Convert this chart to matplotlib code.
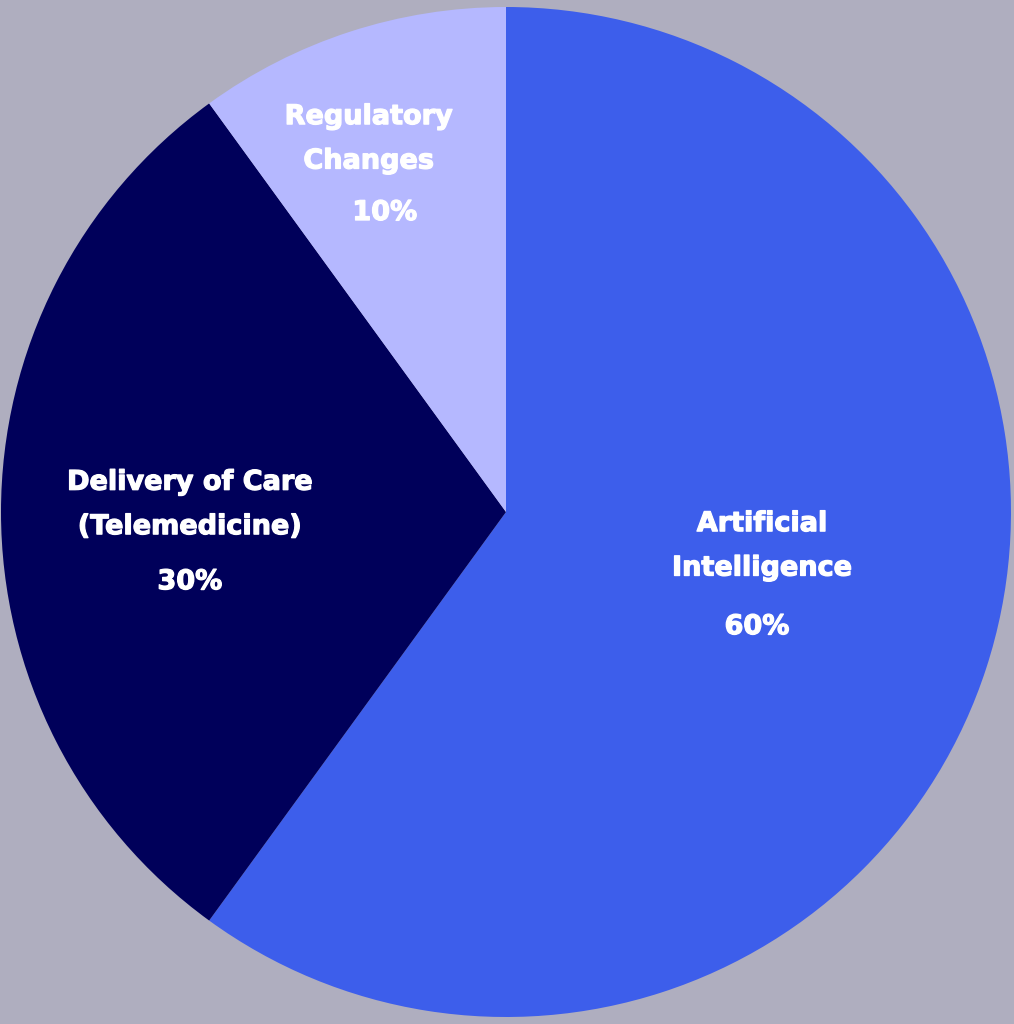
import matplotlib
matplotlib.use("Agg")
import matplotlib.pyplot as plt
import matplotlib.patheffects as pe

# ======================
# DATA
# ======================
categories = ["Artificial\nIntelligence", "Delivery of Care\n(Telemedicine)", "Regulatory\nChanges"]
shares = [60, 30, 10]

colors = ["#3D5EEB", "#00005A", "#B5B8FF"]
bg_color = "#AFAEBF"

# label block / percent positions (in pie radius units)
label_xy = [(0.507, -0.068), (-0.626, 0.014), (-0.272, 0.738)]
pct_xy = [(0.497, -0.228), (-0.626, -0.139), (-0.240, 0.592)]

# ======================
# PLOT
# ======================
fig = plt.figure(figsize=(10.14, 10.24), dpi=100)
fig.patch.set_facecolor(bg_color)
ax = fig.add_axes([0, 0, 1, 1])
ax.set_facecolor(bg_color)

wedges, _ = ax.pie(shares, colors=colors, startangle=90, counterclock=False,
                   radius=1.0, center=(0, 0), wedgeprops=dict(linewidth=0))

# slight stroke to get a heavier bold look
heavy = [pe.withStroke(linewidth=0.9, foreground="white")]
font = dict(family="DejaVu Sans", fontweight="bold",
            fontsize=19.5, color="white", ha="center", va="center",
            path_effects=heavy)
for cat, val, (lx, ly), (px, py) in zip(categories, shares, label_xy, pct_xy):
    ax.text(lx, ly, cat, linespacing=1.92, **font)
    ax.text(px, py, f"{val}%", **font)

# center at pixel (506, 512), radius 505 px
r_px = 505.0
ax.set_xlim(-506 / r_px, (1014 - 506) / r_px)
ax.set_ylim(-(1024 - 512) / r_px, 512 / r_px)
ax.set_aspect("auto")
ax.axis("off")

plt.savefig("out.png", dpi=100, facecolor=bg_color)
plt.close()
